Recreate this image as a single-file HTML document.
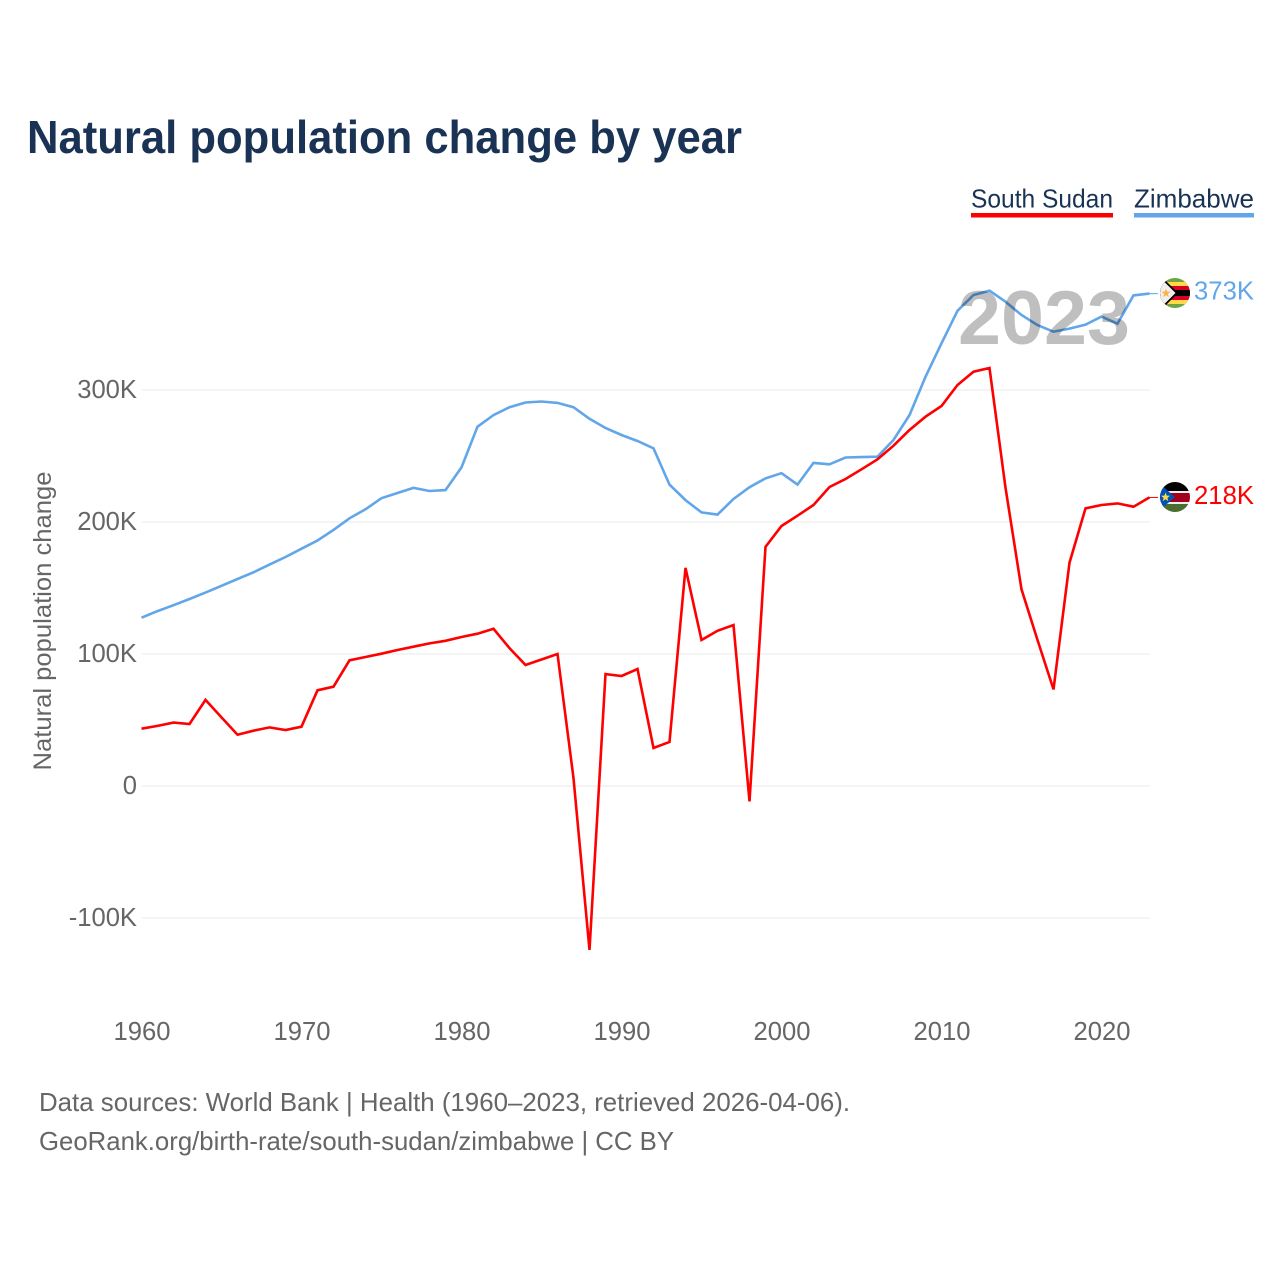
<!DOCTYPE html>
<html lang="en">
<head>
<meta charset="utf-8">
<title>Natural population change by year</title>
<style>
html,body{margin:0;padding:0;background:#fff;}
svg{display:block;font-family:"Liberation Sans",Arial,sans-serif;}
</style>
</head>
<body>
<svg id="chart" xmlns="http://www.w3.org/2000/svg" width="1280" height="1280" viewBox="0 0 1280 1280">
  <rect x="0" y="0" width="1280" height="1280" fill="#ffffff"/>
  <text x="27" y="153" font-size="46" font-weight="700" fill="#1a3354" textLength="715" lengthAdjust="spacingAndGlyphs">Natural population change by year</text>

  <g>
    <text x="971" y="207.5" font-size="26" fill="#1a3354" textLength="142" lengthAdjust="spacingAndGlyphs">South Sudan</text>
    <rect x="971" y="213" width="142" height="4.5" fill="#ff0000"/>
  </g>
  <g>
    <text x="1134" y="207.5" font-size="26" fill="#1a3354" textLength="120" lengthAdjust="spacingAndGlyphs">Zimbabwe</text>
    <rect x="1134" y="213" width="120" height="4.5" fill="#62a6ea"/>
  </g>

  <g id="grid"></g>
  <g id="yticks"></g>
  <g id="xticks"></g>
  <text transform="translate(51,621) rotate(-90)" text-anchor="middle" font-size="25" fill="#666666" textLength="299" lengthAdjust="spacingAndGlyphs">Natural population change</text>
  <g id="series"></g>

  <text x="1044" y="344" text-anchor="middle" font-size="76" font-weight="700" fill="#000000" fill-opacity="0.25" textLength="172" lengthAdjust="spacingAndGlyphs">2023</text>

  <defs>
    <clipPath id="clip-zw"><circle cx="1175" cy="293" r="15"/></clipPath>
    <clipPath id="clip-ss"><circle cx="1175" cy="497" r="15"/></clipPath>
  </defs>
  <g clip-path="url(#clip-zw)">
    <rect x="1160" y="278" width="30" height="30" fill="#6da544"/>
    <rect x="1160" y="282" width="30" height="22" fill="#ffda44"/>
    <rect x="1160" y="286" width="30" height="14" fill="#d80027"/>
    <rect x="1160" y="290" width="30" height="6" fill="#000000"/>
    <polygon points="1160,278 1163,278 1178,293 1163,308 1160,308" fill="#000000"/>
    <polygon points="1160,279 1161.5,279 1175.5,293 1161.5,307 1160,307" fill="#f0f0f0"/>
    <polygon points="1166,288.5 1167.2,291.6 1170.5,291.8 1167.9,293.9 1168.8,297.1 1166,295.3 1163.2,297.1 1164.1,293.9 1161.5,291.8 1164.8,291.6" fill="#ffb347"/>
  </g>
  <g clip-path="url(#clip-ss)">
    <rect x="1160" y="482" width="30" height="30" fill="#f0f0f0"/>
    <rect x="1160" y="482" width="30" height="9" fill="#000000"/>
    <rect x="1160" y="493" width="30" height="9" fill="#a2001d"/>
    <rect x="1160" y="504" width="30" height="8" fill="#496e2d"/>
    <polygon points="1160,484 1175,497 1160,510" fill="#0052b4"/>
    <polygon points="1165.5,492.5 1166.7,495.6 1170,495.8 1167.4,497.9 1168.3,501.1 1165.5,499.3 1162.7,501.1 1163.6,497.9 1161,495.8 1164.3,495.6" fill="#ffda44"/>
  </g>
  <text id="label-zw" x="1194" y="299.5" font-size="25.6" fill="#62a6ea" textLength="60" lengthAdjust="spacingAndGlyphs">373K</text>
  <text id="label-ss" x="1194" y="504" font-size="25.6" fill="#ff0000" textLength="60" lengthAdjust="spacingAndGlyphs">218K</text>

  <text x="39" y="1111" font-size="26" fill="#666666" textLength="811" lengthAdjust="spacingAndGlyphs">Data sources: World Bank | Health (1960–2023, retrieved 2026-04-06).</text>
  <text x="39" y="1150" font-size="26" fill="#666666" textLength="635" lengthAdjust="spacingAndGlyphs">GeoRank.org/birth-rate/south-sudan/zimbabwe | CC BY</text>
</svg>
<script>
const startYear = 1960;
const zimbabwe = [127.5,132.5,137,141.7,146.5,151.7,156.8,161.9,167.7,173.5,179.8,186,194,202.8,209.6,218,222,225.8,223.5,224.2,241.4,272.2,281,287,290.5,291.3,290.2,287,278.2,271.2,265.9,261.4,255.8,228.3,216.6,207.3,205.6,217.4,226.4,233,237,228.3,244.8,243.7,248.9,249.2,249.5,262.1,281,310,335.4,360,372,375.2,366.9,356.8,349.2,344.2,346.5,349.5,355.6,350.2,371.7,373];
const southSudan = [43.4,45.5,48,47,65.2,52,38.9,41.9,44.4,42.4,44.9,72.5,75.2,95.2,97.7,100.2,103,105.5,108,110,112.9,115.4,119.1,104.5,91.7,95.8,100,6,-124.2,84.8,83.3,88.6,28.8,33.3,165.2,110.6,117.6,122,-11.7,181.2,197,204.8,212.9,226.5,232.6,239.9,247.5,257.8,269.7,279.8,287.9,303.8,313.9,316.7,226,149,110.6,73.2,169.2,210.3,212.9,214.1,211.6,218.6];
const yTickValues = [300,200,100,0,-100];
const yTickLabels = ["300K","200K","100K","0","-100K"];
const xTickYears = [1960,1970,1980,1990,2000,2010,2020];
const xTickLabels = ["1960","1970","1980","1990","2000","2010","2020"];

const NS = 'http://www.w3.org/2000/svg';
function xScale(year){ return 141.5 + (year - 1960) * 16; }
function yScale(v){ return 786 - v * 1.32; }
function make(tag, attrs){
  const el = document.createElementNS(NS, tag);
  for (const k in attrs) el.setAttribute(k, attrs[k]);
  return el;
}
const grid = document.getElementById('grid');
const yticks = document.getElementById('yticks');
const xticks = document.getElementById('xticks');
const series = document.getElementById('series');

yTickValues.forEach(function(v, i){
  const line = make('line', {x1:142, x2:1150, y1:yScale(v), y2:yScale(v), stroke:'#eeeeee', 'stroke-width':1.2});
  
  
  grid.appendChild(line);
  const t = make('text', {x:137, y:yScale(v)+8, 'text-anchor':'end', 'font-size':25.6, fill:'#666666'});
  
  
  t.textContent = yTickLabels[i];
  yticks.appendChild(t);
});
xTickYears.forEach(function(y, i){
  const t = make('text', {x:xScale(y)+0.5, y:1040, 'text-anchor':'middle', 'font-size':25.6, fill:'#666666'});
  
  
  t.textContent = xTickLabels[i];
  xticks.appendChild(t);
});
function pathFrom(values){
  return values.map(function(v, i){
    return (i ? 'L' : 'M') + xScale(startYear + i).toFixed(1) + ' ' + yScale(v).toFixed(1);
  }).join(' ');
}
function connector(values, color){
  const last = values[values.length - 1];
  const c = make('line', {x1:xScale(startYear + values.length - 1), x2:1158, y1:yScale(last), y2:yScale(last), stroke:color, 'stroke-width':1});
  
  
  series.appendChild(c);
}
const lineZw = make('path', {d:pathFrom(zimbabwe), fill:'none', stroke:'#62a6ea', 'stroke-width':2.6, 'stroke-linejoin':'miter'});


series.appendChild(lineZw);
connector(zimbabwe, '#62a6ea');
const lineSs = make('path', {d:pathFrom(southSudan), fill:'none', stroke:'#ff0000', 'stroke-width':2.6, 'stroke-linejoin':'miter'});


series.appendChild(lineSs);
connector(southSudan, '#ff0000');
</script>
</body>
</html>
